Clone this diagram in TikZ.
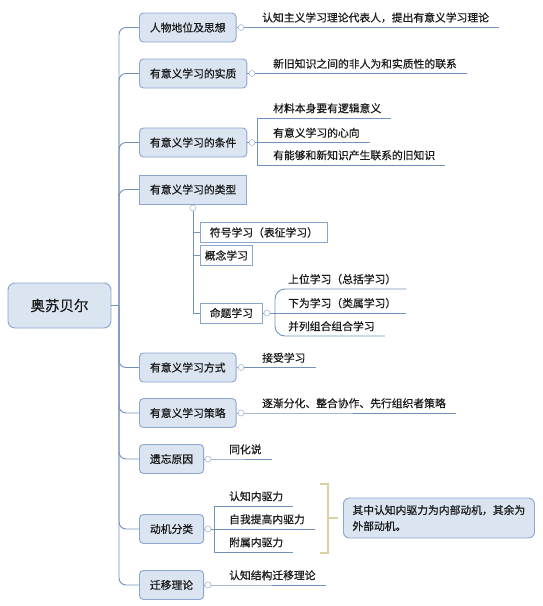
\documentclass[tikz,border=0pt]{standalone}
\usepackage{fontspec}
\setmainfont{Noto Sans CJK SC}[FakeBold=0.6]

\definecolor{boxfill}{HTML}{DBE5F1}
\definecolor{boxline}{HTML}{8AA6CE}
\definecolor{linkline}{HTML}{7391BD}
\definecolor{knobline}{HTML}{A8BAD4}
\definecolor{bracecol}{HTML}{D8D2A4}
\definecolor{ink}{HTML}{1A1A1A}

\tikzset{
  root/.style={draw=boxline, fill=boxfill, rounded corners=7pt, line width=0.9pt,
    minimum width=103pt, minimum height=45pt, text=ink,
    font=\fontsize{14.5}{16}\selectfont},
  topic/.style={draw=boxline, fill=boxfill, rounded corners=4pt, line width=0.9pt,
    anchor=west, minimum height=29pt, inner xsep=10.5pt, text=ink,
    font=\fontsize{10.8}{13}\selectfont},
  flat/.style={topic, rounded corners=0pt},
  sub/.style={draw=boxline, fill=white, line width=0.8pt, anchor=west,
    minimum height=20pt, inner xsep=4pt, text=ink,
    font=\fontsize{10.8}{13}\selectfont},
  leaf/.style={anchor=south west, inner xsep=10pt, inner ysep=4.5pt, text=ink,
    font=\fontsize{10.8}{13}\selectfont},
  knob/.style={circle, draw=knobline, fill=white, inner sep=0pt,
    minimum size=6pt, line width=0.6pt},
  note/.style={draw=boxline, fill=boxfill, rounded corners=6pt, line width=0.9pt,
    anchor=west, text width=173pt, inner xsep=9pt, minimum height=40pt,
    align=left, text=ink, font=\fontsize{10.8}{16}\selectfont},
  link/.style={draw=linkline, line width=0.9pt},
  brace/.style={draw=bracecol, line width=1.2pt}
}

\begin{document}
\begin{tikzpicture}[x=1pt, y=-1pt]
\useasboundingbox (0,0) rectangle (542,606);

% root and main topics
\node[root] (aosu) at (59.5,305.5) {奥苏贝尔};
\coordinate (hub) at (119,305.5);

\node[topic] (renwu) at (139,27.5) {人物地位及思想};
\node[topic] (shizhi) at (139,73.5) {有意义学习的实质};
\node[topic] (tiaojian) at (139,142.5) {有意义学习的条件};
\node[flat] (leixing) at (139,189.5) {有意义学习的类型};
\node[topic] (fangshi) at (139,367.5) {有意义学习方式};
\node[topic] (celue) at (139,413) {有意义学习策略};
\node[topic] (yiwang) at (139,459) {遗忘原因};
\node[topic] (dongji) at (139,529) {动机分类};
\node[topic] (qianyi) at (139,585) {迁移理论};

\draw[link] (aosu) -- (hub);
\foreach \t in {renwu, shizhi, tiaojian, leixing, fangshi, celue, yiwang, dongji, qianyi}
  \draw[link, rounded corners=7pt] (hub) |- (\t.west);

% knobs
\node[knob] (renwu-k) at (241,27.5) {};
\node[knob] (shizhi-k) at (252,73.5) {};
\node[knob] (tiaojian-k) at (252,142.5) {};
\node[knob] (leixing-k) at (193,208) {};
\node[knob] (fangshi-k) at (241,367.5) {};
\node[knob] (celue-k) at (241,413) {};
\node[knob] (yiwang-k) at (208,459) {};
\node[knob] (dongji-k) at (208,529) {};
\node[knob] (qianyi-k) at (208,585) {};

% single leaves
\node[leaf] (daibiao) at (252,27.5) {认知主义学习理论代表人，提出有意义学习理论};
\node[leaf] (lianxi) at (263,73.5) {新旧知识之间的非人为和实质性的联系};
\node[leaf] (jieshou) at (252,367.5) {接受学习};
\node[leaf] (fenhua) at (252,413) {逐渐分化、整合协作、先行组织者策略};
\node[leaf] (tonghua) at (219,459) {同化说};
\node[leaf] (jiegou) at (219,585) {认知结构迁移理论};

\foreach \t/\l in {renwu/daibiao, shizhi/lianxi, fangshi/jieshou, celue/fenhua, yiwang/tonghua, qianyi/jiegou}
  \draw[link] (\t.east) -- (\t-k) -- (\l.south west) -- (\l.south east);

% conditions
\node[leaf] (luoji) at (263,118) {材料本身要有逻辑意义};
\node[leaf] (xinxiang) at (263,142.5) {有意义学习的心向};
\node[leaf] (jiuzhi) at (263,165) {有能够和新知识产生联系的旧知识};
\coordinate (tj) at (257,142.5);

\draw[link] (tiaojian.east) -- (tiaojian-k) -- (xinxiang.south east);
\foreach \l in {luoji, jiuzhi}
  \draw[link] (tj) |- (\l.south east);

% types
\node[sub, minimum width=127pt] (fuhao) at (200,232.5) {符号学习（表征学习）};
\node[sub, minimum width=52pt] (gainian) at (200,255.5) {概念学习};
\node[sub, minimum width=62pt] (mingti) at (200,313) {命题学习};
\node[knob] (mingti-k) at (267,313) {};

\draw[link] (leixing.south) -- (leixing-k);
\foreach \s in {fuhao, gainian, mingti}
  \draw[link] (leixing-k) |- (\s.west);

\node[leaf] (shangwei) at (278,289) {上位学习（总括学习）};
\node[leaf] (xiawei) at (278,313) {下为学习（类属学习）};
\node[leaf] (binglie) at (278,336) {并列组合组合学习};
\coordinate (mj) at (275,313);

\draw[link] (mingti.east) -- (mingti-k) -- (xiawei.south east);
\foreach \l in {shangwei, binglie}
  \draw[link, rounded corners=10pt] (mj) |- (\l.south east);

% motives
\node[leaf] (renzhi) at (219,506) {认知内驱力};
\node[leaf] (ziwo) at (219,529) {自我提高内驱力};
\node[leaf] (fushu) at (219,552) {附属内驱力};
\coordinate (dj) at (214,529);

\draw[link] (dongji.east) -- (dongji-k) -- (ziwo.south east);
\foreach \l in {renzhi, fushu}
  \draw[link] (dj) |- (\l.south east);

% summary
\node[note] (qizhong) at (343,518) {其中认知内驱力为内部动机，其余为\\外部动机。};
\coordinate (bt) at (320,484);
\coordinate (bm) at (328,518);
\coordinate (bb) at (320,553);

\draw[brace] (bt) -| (bm) |- (bb);
\draw[brace] (bm) -- ([xshift=-5pt]qizhong.west);

\end{tikzpicture}
\end{document}
